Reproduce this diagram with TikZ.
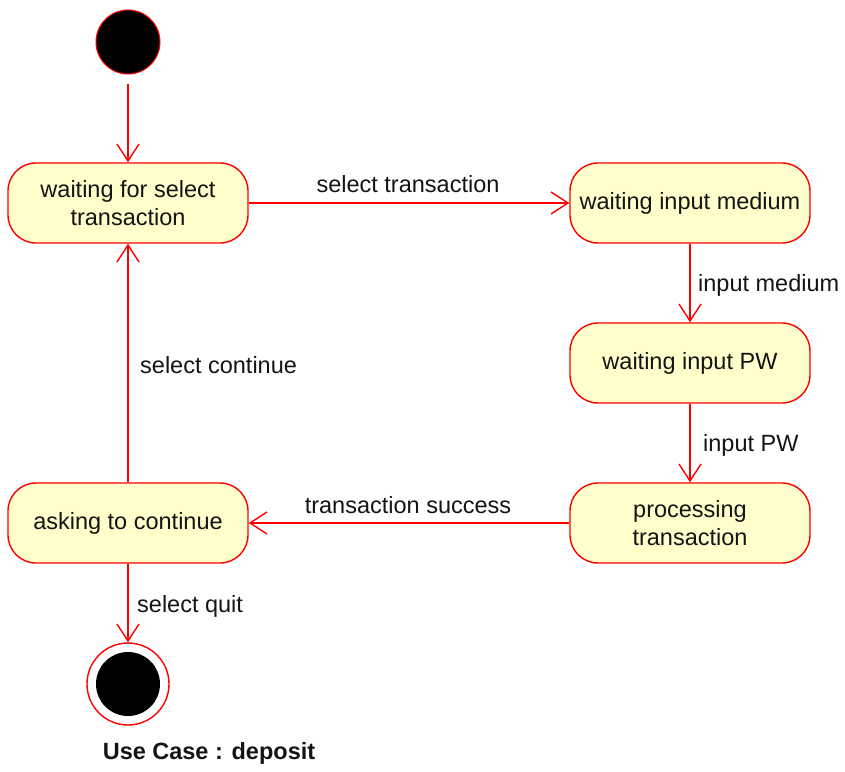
\documentclass[tikz,border=0pt]{standalone}
\usepackage{fontspec}
\setmainfont{Liberation Sans}
\usetikzlibrary{arrows.meta}
\definecolor{stfill}{RGB}{255,255,204}
\definecolor{stline}{RGB}{255,0,0}
\definecolor{txt}{RGB}{20,20,20}
\begin{document}
\begin{tikzpicture}[x=1pt,y=-1pt,
  state/.style={draw=stline, fill=stfill, line width=1.4pt, rounded corners=28pt,
    minimum width=240pt, minimum height=80pt, align=center, inner sep=0pt,
    text=txt, font=\fontsize{23.5}{28}\selectfont},
  lbl/.style={text=txt, font=\fontsize{23.5}{28}\selectfont, inner sep=0pt},
  trans/.style={draw=stline, line width=1.4pt, -{Straight Barb[length=17pt,width=22pt,line width=1.4pt]}},
  initial/.style={circle, draw=stline, fill=black, line width=1pt, minimum size=64pt, inner sep=0pt},
]
\useasboundingbox (0,0) rectangle (845,771);
\node[initial] (start) at (128,42) {};
\node[state] (s1) at (128,203) {waiting for select\\transaction};
\node[state] (s2) at (690,203) {waiting input medium};
\node[state] (s3) at (690,363) {waiting input PW};
\node[state] (s4) at (690,523) {processing\\transaction};
\node[state] (s5) at (128,523) {asking to continue};
\node[circle, draw=stline, line width=1.4pt, fill=white, minimum size=82pt, inner sep=0pt] (endo) at (128,684) {};
\node[circle, fill=black, minimum size=64pt, inner sep=0pt] (endi) at (128,684) {};

\draw[trans] (start.south) ++(0,9) coordinate (st0) -- (s1.north);
\draw[trans] (s1.east) -- (s2.west);
\draw[trans] (s2.south) -- (s3.north);
\draw[trans] (s3.south) -- (s4.north);
\draw[trans] (s4.west) -- (s5.east);
\draw[trans] (s5.north) -- (s1.south);
\draw[trans] (s5.south) -- (endo.north);

\node[lbl] (l1) at (408,184) {select transaction};
\node[lbl, anchor=west] (l2) at (698,285) {input medium};
\node[lbl, anchor=west] (l3) at (703,445) {input PW};
\node[lbl] (l4) at (408,505) {transaction success};
\node[lbl, anchor=west] (l5) at (140,365) {select continue};
\node[lbl, anchor=west] (l6) at (137,606) {select quit};
\node[lbl, font=\fontsize{23.5}{28}\selectfont\bfseries] (title) at (209,753) {Use Case : deposit};
\end{tikzpicture}
\end{document}
